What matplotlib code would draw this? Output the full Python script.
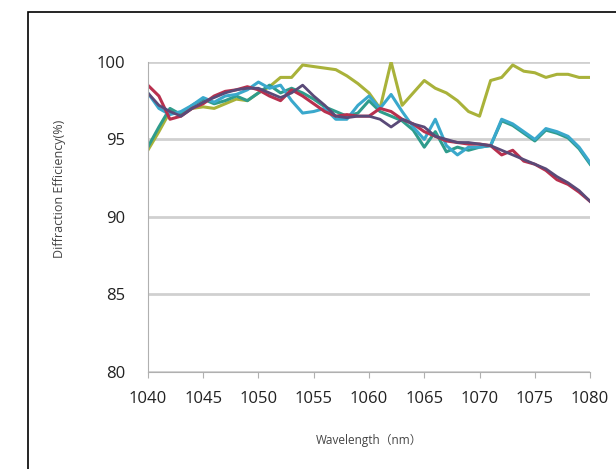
import matplotlib
matplotlib.use('Agg')
import matplotlib.pyplot as plt
from matplotlib.patches import Rectangle

plt.rcParams['font.family'] = ['Open Sans', 'Noto Sans CJK SC', 'DejaVu Sans']

# wavelength (nm) and diffraction efficiency (%) of each sample
wavelength = list(range(1040, 1081))

red = [98.5, 97.8, 96.3, 96.5, 97.0, 97.3, 97.8, 98.1, 98.2, 98.4,
       98.2, 97.8, 97.5, 98.2, 97.8, 97.3, 96.8, 96.5, 96.6, 96.5,
       96.5, 97.0, 96.8, 96.3, 96.0, 95.5, 95.2, 94.9, 94.8, 94.7,
       94.7, 94.6, 94.0, 94.3, 93.6, 93.4, 93.0, 92.4, 92.1, 91.6, 91.0]

navy = [98.0, 97.2, 96.8, 96.5, 97.0, 97.4, 97.7, 98.0, 98.2, 98.3,
        98.3, 98.0, 97.7, 98.0, 98.5, 97.8, 97.2, 96.5, 96.4, 96.5,
        96.5, 96.3, 95.8, 96.3, 96.0, 95.8, 95.2, 95.0, 94.8, 94.8,
        94.7, 94.6, 94.3, 94.0, 93.7, 93.4, 93.1, 92.6, 92.2, 91.7, 91.0]

cyan = [98.0, 97.0, 96.6, 96.8, 97.2, 97.7, 97.4, 97.8, 97.9, 98.2,
        98.7, 98.3, 98.5, 97.5, 96.7, 96.8, 97.0, 96.3, 96.3, 97.2,
        97.8, 97.0, 97.9, 96.8, 95.8, 95.0, 96.3, 94.6, 94.0, 94.5,
        94.5, 94.6, 96.3, 96.0, 95.5, 95.0, 95.7, 95.5, 95.2, 94.5, 93.5]

teal = [94.5, 95.8, 97.0, 96.6, 97.2, 97.6, 97.3, 97.5, 97.8, 97.5,
        98.0, 98.5, 98.0, 98.3, 98.0, 97.6, 97.1, 96.8, 96.5, 96.7,
        97.5, 96.8, 96.5, 96.2, 95.6, 94.5, 95.5, 94.2, 94.5, 94.3,
        94.5, 94.6, 96.2, 95.9, 95.4, 94.9, 95.6, 95.4, 95.1, 94.4, 93.4]

olive = [94.3, 95.5, 96.8, 96.7, 97.0, 97.1, 97.0, 97.3, 97.6, 97.5,
         98.0, 98.4, 99.0, 99.0, 99.8, 99.7, 99.6, 99.5, 99.1, 98.6,
         98.0, 97.0, 100.0, 97.2, 98.0, 98.8, 98.3, 98.0, 97.5, 96.8,
         96.5, 98.8, 99.0, 99.8, 99.4, 99.3, 99.0, 99.2, 99.2, 99.0, 99.0]

fig = plt.figure(figsize=(6.16, 4.69), dpi=100)
ax = fig.add_axes([0.240, 0.207, 0.718, 0.661])

# outer frame of the original figure
fig.patches.append(Rectangle((0.045, -0.05), 1.0, 1.024, transform=fig.transFigure,
                             fill=False, edgecolor='black', linewidth=1.2))

ax.plot(wavelength, olive, color='#a9b23a', lw=2.2)
ax.plot(wavelength, teal, color='#2f9c8c', lw=2.2)
ax.plot(wavelength, cyan, color='#3aa8cc', lw=2.2)
ax.plot(wavelength, red, color='#b8304e', lw=2.2)
ax.plot(wavelength, navy, color='#5a4a78', lw=2.0)

ax.set_xlim(1040, 1080)
ax.set_ylim(80, 100)
ax.set_xticks(range(1040, 1081, 5))
ax.set_yticks(range(80, 101, 5))
ax.yaxis.grid(True, color='#d0d0d0', lw=2)
ax.set_axisbelow(True)

for side in ['top', 'right']:
    ax.spines[side].set_visible(False)
ax.spines['left'].set_color('#b0b0b0')
ax.spines['bottom'].set_color('#b0b0b0')
ax.tick_params(axis='y', length=0, pad=16, labelsize=12, labelcolor='#222222')
ax.tick_params(axis='x', length=4, color='#b0b0b0', pad=10, labelsize=12, labelcolor='#222222')

ax.set_xlabel('Wavelength（nm）', fontsize=8.5, color='#444444')
ax.set_ylabel('Diffraction Efficiency(%)', fontsize=9, color='#444444')
ax.yaxis.set_label_coords(-0.185, 0.59)
ax.xaxis.set_label_coords(0.5, -0.2)

fig.savefig('out.png', dpi=100)
